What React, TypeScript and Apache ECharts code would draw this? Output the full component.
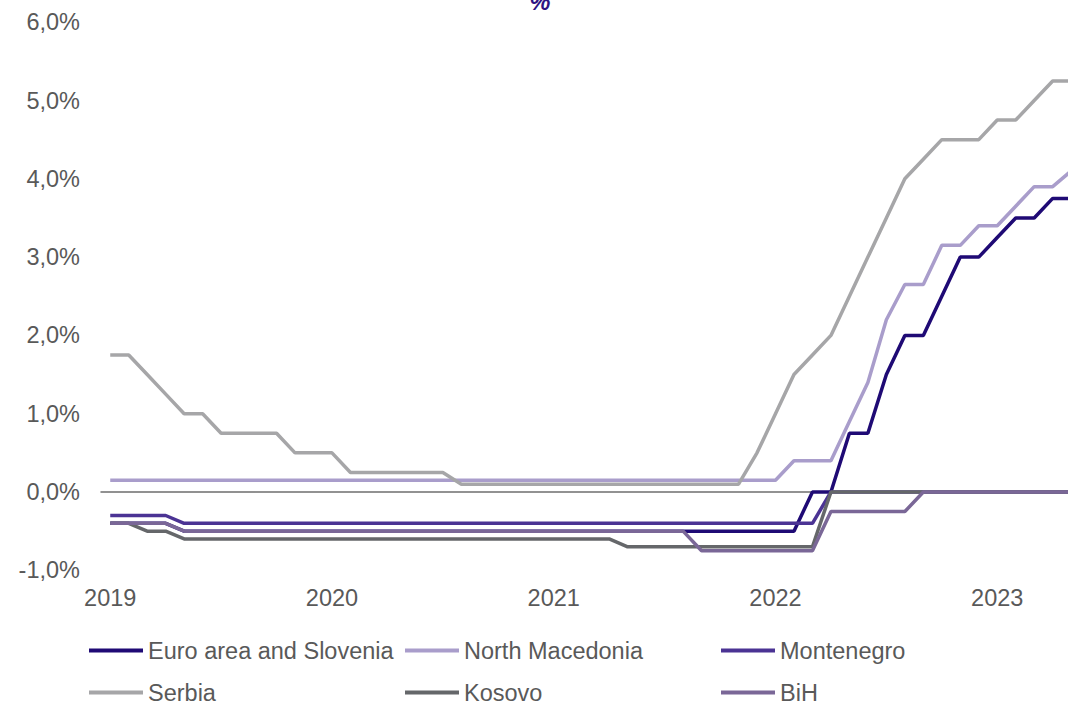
import React, { useEffect, useRef } from "react";
import * as echarts from "echarts";

const months: string[] = [
  "2019-01","2019-02","2019-03","2019-04","2019-05","2019-06","2019-07","2019-08","2019-09","2019-10","2019-11","2019-12",
  "2020-01","2020-02","2020-03","2020-04","2020-05","2020-06","2020-07","2020-08","2020-09","2020-10","2020-11","2020-12",
  "2021-01","2021-02","2021-03","2021-04","2021-05","2021-06","2021-07","2021-08","2021-09","2021-10","2021-11","2021-12",
  "2022-01","2022-02","2022-03","2022-04","2022-05","2022-06","2022-07","2022-08","2022-09","2022-10","2022-11","2022-12",
  "2023-01","2023-02","2023-03","2023-04","2023-05",
];

const euroArea: number[] = [
  -0.4, -0.4, -0.4, -0.4,
  -0.5, -0.5, -0.5, -0.5, -0.5, -0.5, -0.5, -0.5, -0.5, -0.5, -0.5, -0.5, -0.5, -0.5, -0.5, -0.5, -0.5,
  -0.5, -0.5, -0.5, -0.5, -0.5, -0.5, -0.5, -0.5, -0.5, -0.5, -0.5, -0.5, -0.5, -0.5, -0.5, -0.5, -0.5,
  0, 0, 0.75, 0.75, 1.5, 2.0, 2.0, 2.5, 3.0, 3.0, 3.25, 3.5, 3.5, 3.75, 3.75,
];

const northMacedonia: number[] = [
  0.15, 0.15, 0.15, 0.15, 0.15, 0.15, 0.15, 0.15, 0.15, 0.15, 0.15, 0.15, 0.15, 0.15, 0.15, 0.15, 0.15, 0.15, 0.15,
  0.15, 0.15, 0.15, 0.15, 0.15, 0.15, 0.15, 0.15, 0.15, 0.15, 0.15, 0.15, 0.15, 0.15, 0.15, 0.15, 0.15, 0.15,
  0.4, 0.4, 0.4, 0.9, 1.4, 2.2, 2.65, 2.65, 3.15, 3.15, 3.4, 3.4, 3.65, 3.9, 3.9, 4.1,
];

const montenegro: number[] = [
  -0.3, -0.3, -0.3, -0.3,
  -0.4, -0.4, -0.4, -0.4, -0.4, -0.4, -0.4, -0.4, -0.4, -0.4, -0.4, -0.4, -0.4, -0.4, -0.4, -0.4, -0.4, -0.4,
  -0.4, -0.4, -0.4, -0.4, -0.4, -0.4, -0.4, -0.4, -0.4, -0.4, -0.4, -0.4, -0.4, -0.4, -0.4, -0.4, -0.4,
  0, 0, 0, 0, 0, 0, 0, 0, 0, 0, 0, 0, 0, 0,
];

const serbia: number[] = [
  1.75, 1.75, 1.5, 1.25, 1.0, 1.0, 0.75, 0.75, 0.75, 0.75, 0.5, 0.5, 0.5,
  0.25, 0.25, 0.25, 0.25, 0.25, 0.25,
  0.1, 0.1, 0.1, 0.1, 0.1, 0.1, 0.1, 0.1, 0.1, 0.1, 0.1, 0.1, 0.1, 0.1, 0.1, 0.1,
  0.5, 1.0, 1.5, 1.75, 2.0, 2.5, 3.0, 3.5, 4.0, 4.25, 4.5, 4.5, 4.5, 4.75, 4.75, 5.0, 5.25, 5.25,
];

const kosovo: number[] = [
  -0.4, -0.4, -0.5, -0.5,
  -0.6, -0.6, -0.6, -0.6, -0.6, -0.6, -0.6, -0.6, -0.6, -0.6, -0.6, -0.6,
  -0.6, -0.6, -0.6, -0.6, -0.6, -0.6, -0.6, -0.6, -0.6, -0.6, -0.6, -0.6,
  -0.7, -0.7, -0.7, -0.7, -0.7, -0.7, -0.7, -0.7, -0.7, -0.7, -0.7,
  0, 0, 0, 0, 0, 0, 0, 0, 0, 0, 0, 0, 0, 0,
];

const bih: number[] = [
  -0.4, -0.4, -0.4, -0.4,
  -0.5, -0.5, -0.5, -0.5, -0.5, -0.5, -0.5, -0.5, -0.5, -0.5, -0.5, -0.5, -0.5, -0.5,
  -0.5, -0.5, -0.5, -0.5, -0.5, -0.5, -0.5, -0.5, -0.5, -0.5, -0.5, -0.5, -0.5, -0.5,
  -0.75, -0.75, -0.75, -0.75, -0.75, -0.75, -0.75,
  -0.25, -0.25, -0.25, -0.25, -0.25,
  0, 0, 0, 0, 0, 0, 0, 0, 0,
];

const seriesNames: string[] = ["Euro area and Slovenia", "North Macedonia", "Montenegro", "Serbia", "Kosovo", "BiH"];
const seriesData: number[][] = [euroArea, northMacedonia, montenegro, serbia, kosovo, bih];
const seriesColors: string[] = ["#1F0A75", "#A99DCB", "#4B3394", "#A6A6A8", "#65676A", "#7A6797"];

const FONT = '"Liberation Sans", Arial, sans-serif';
const TEXT_COLOR = "#595959";
const FS = 23.5;

export default function App() {
  const ref = useRef<HTMLDivElement>(null);

  useEffect(() => {
    if (!ref.current) return;
    const chart = echarts.init(ref.current, undefined, { renderer: "svg" });

    const legendPos = [
      { left: 89, top: 638.5 },
      { left: 405, top: 638.5 },
      { left: 721, top: 638.5 },
      { left: 89, top: 680.5 },
      { left: 405, top: 680.5 },
      { left: 721, top: 680.5 },
    ];

    const option: any = {
      animation: false,
      backgroundColor: "#ffffff",
      textStyle: { fontFamily: FONT },
      graphic: [
        {
          type: "text",
          x: 540,
          y: 13,
          style: {
            text: "%",
            fill: "#2E1383",
            font: `italic bold ${FS}px ${FONT}`,
            align: "center",
            verticalAlign: "bottom",
          },
        },
      ],
      legend: seriesNames.map((n, i) => ({
        data: [n],
        left: legendPos[i].left,
        top: legendPos[i].top,
        padding: 0,
        icon: "rect",
        itemWidth: 54,
        itemHeight: 4,
        itemGap: 0,
        selectedMode: false,
        textStyle: { fontSize: FS, lineHeight: 20, color: TEXT_COLOR, fontFamily: FONT },
      })),
      grid: { left: 101, top: 22.2, width: 979.4, height: 548.1, containLabel: false },
      xAxis: [
        {
          type: "category",
          data: months,
          position: "bottom",
          boundaryGap: true,
          axisLine: { show: true, onZero: true, lineStyle: { color: "#6E6E6E", width: 1.5 } },
          axisTick: { show: false },
          axisLabel: { show: false },
          splitLine: { show: false },
        },
        {
          type: "category",
          data: months,
          position: "bottom",
          boundaryGap: true,
          axisLine: { show: false, onZero: false },
          axisTick: { show: false },
          axisLabel: {
            show: true,
            interval: 11,
            margin: 16,
            fontSize: FS,
            color: TEXT_COLOR,
            fontFamily: FONT,
            formatter: (v: string) => v.slice(0, 4),
          },
          splitLine: { show: false },
        },
      ],
      yAxis: {
        type: "value",
        min: -1,
        max: 6,
        interval: 1,
        axisLine: { show: false },
        axisTick: { show: false },
        splitLine: { show: false },
        axisLabel: {
          margin: 21,
          fontSize: FS,
          color: TEXT_COLOR,
          fontFamily: FONT,
          formatter: (v: number) => v.toFixed(1).replace(".", ",") + "%",
        },
      },
      series: seriesNames.map((n, i) => ({
        name: n,
        type: "line",
        xAxisIndex: 0,
        data: seriesData[i],
        symbol: "none",
        showSymbol: false,
        color: seriesColors[i],
        lineStyle: { color: seriesColors[i], width: 3.5 },
        itemStyle: { color: seriesColors[i] },
        z: 2 + i,
      })),
    };

    chart.setOption(option);
    return () => chart.dispose();
  }, []);

  return (
    <div style={{ position: "absolute", left: 0, top: 0, width: 1068, height: 703, overflow: "hidden", background: "#fff" }}>
      <div ref={ref} style={{ width: 1110, height: 703 }} />
    </div>
  );
}
